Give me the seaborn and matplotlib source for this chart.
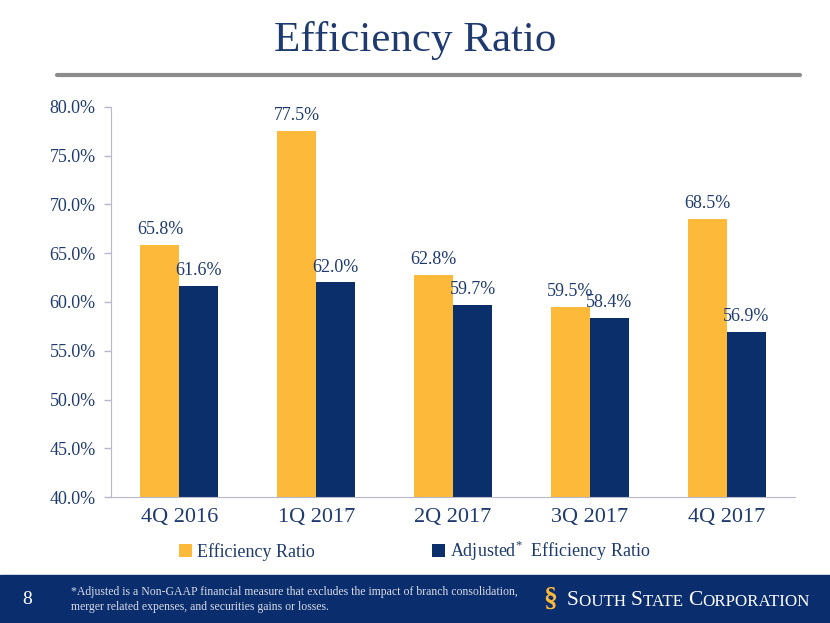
import pandas as pd
import matplotlib.pyplot as plt
import seaborn as sns
from matplotlib.patches import Rectangle

quarters = ["4Q 2016", "1Q 2017", "2Q 2017", "3Q 2017", "4Q 2017"]
efficiency = [65.8, 77.5, 62.8, 59.5, 68.5]
adjusted = [61.6, 62.0, 59.7, 58.4, 56.9]
series_names = ["Efficiency Ratio", r"Adjusted$^{*}$  Efficiency Ratio"]

navy = "#0B2F6B"
gold = "#FDB93A"
text_navy = "#1F3A6E"

df = pd.DataFrame({
    "quarter": quarters * 2,
    "value": efficiency + adjusted,
    "series": [series_names[0]] * len(quarters) + [series_names[1]] * len(quarters),
})

sns.set_style("white")
plt.rcParams["font.family"] = ["Liberation Serif", "DejaVu Serif"]
plt.rcParams["mathtext.fontset"] = "custom"
plt.rcParams["mathtext.rm"] = "Liberation Serif"

fig = plt.figure(figsize=(8.3, 6.23), dpi=100)
ax = fig.add_axes([0.1337, 0.2022, 0.8243, 0.6261])

sns.barplot(data=df, x="quarter", y="value", hue="series",
            palette=[gold, navy], width=0.57, saturation=1, linewidth=0, ax=ax)

ax.set_ylim(40, 80)
ax.set_yticks(range(40, 81, 5))
ax.set_yticklabels([f"{v:.1f}%" for v in range(40, 81, 5)], fontsize=13, color=text_navy)
ax.set_xlabel("")
ax.set_ylabel("")
ax.tick_params(axis="x", labelsize=16, labelcolor=text_navy, length=0, pad=8)
ax.tick_params(axis="y", left=True, length=5, color="#B8B8C8", width=1, pad=6)
for s in ["top", "right"]:
    ax.spines[s].set_visible(False)
for s in ["left", "bottom"]:
    ax.spines[s].set_color("#B8B8C8")

for cont in ax.containers:
    ax.bar_label(cont, labels=[f"{v:.1f}%" for v in cont.datavalues],
                 padding=5, fontsize=13, color=text_navy)

handles, labels = ax.get_legend_handles_labels()
ax.legend(handles, labels, loc="center", bbox_to_anchor=(0.5, 0.1156),
          bbox_transform=fig.transFigure, ncol=2, frameon=False, fontsize=13,
          handlelength=0.7, handleheight=0.7, handletextpad=0.3,
          columnspacing=6.5, labelcolor=text_navy)

# title and rule
fig.text(0.5, 0.935, "Efficiency Ratio", ha="center", va="center",
         fontsize=31, color=text_navy)
fig.add_artist(plt.Line2D([0.069, 0.964], [0.879, 0.879], color="#8C8C8C", lw=3))

# footer band
fig.add_artist(Rectangle((0, 0), 1, 0.077, transform=fig.transFigure,
                         color="#0A2D6E", zorder=0))
fig.text(0.027, 0.038, "8", color="white", fontsize=14, va="center")
fig.text(0.085, 0.038,
         "*Adjusted is a Non-GAAP financial measure that excludes the impact of branch consolidation,\n"
         "merger related expenses, and securities gains or losses.",
         color="#D8DCE6", fontsize=8.5, va="center", linespacing=1.3)
fig.text(0.655, 0.038, "\u00a7", color=gold, fontsize=20, va="center", fontweight="bold")

# logo text in small caps, chained piece by piece
parts = [("S", 15.5), ("OUTH ", 12.2), ("S", 15.5), ("TATE ", 12.2), ("C", 15.5), ("ORPORATION", 12.2)]
prev = fig.text(0.683, 0.021, parts[0][0], color="white", fontsize=parts[0][1], va="bottom")
for txt, size in parts[1:]:
    prev = ax.annotate(txt, xy=(1, 0), xycoords=prev, xytext=(0.3, 0), textcoords="offset points",
                       color="white", fontsize=size, va="bottom", annotation_clip=False)

fig.savefig("out.png", dpi=100)
